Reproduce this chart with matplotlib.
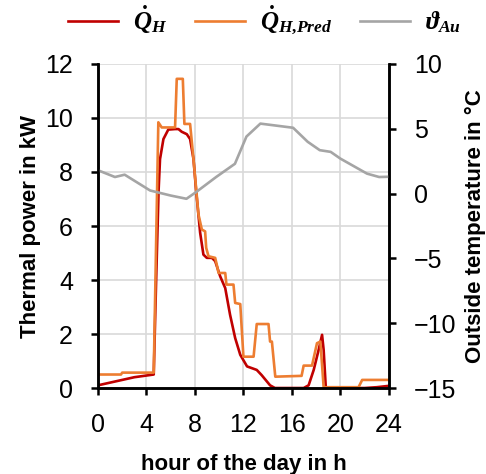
import matplotlib
matplotlib.use("Agg")
import matplotlib.pyplot as plt

plt.rcParams["font.family"] = ["Liberation Sans", "DejaVu Sans"]
plt.rcParams["mathtext.fontset"] = "custom"
plt.rcParams["mathtext.rm"] = "Liberation Serif:bold"
plt.rcParams["mathtext.it"] = "Liberation Serif:bold:italic"
plt.rcParams["mathtext.bf"] = "Liberation Serif:bold"

# measured heat demand (kW)
heat_hour = [0, 1, 2, 3, 4.6, 4.8, 5.0, 5.12, 5.4, 5.8, 6.36, 6.64, 6.91, 7.33,
             7.6, 7.88, 8.1, 8.43, 8.7, 8.98, 9.4, 9.67, 10.08, 10.5, 10.9,
             11.32, 11.74, 12.3, 13.1, 13.5, 14.2, 14.6, 16.5, 16.97, 17.38,
             17.8, 18.2, 18.49, 18.62, 18.8, 20, 22, 23, 24]
heat_kw = [0.1, 0.2, 0.3, 0.4, 0.5, 4.0, 7.3, 8.48, 9.22, 9.57, 9.59, 9.59, 9.49,
           9.4, 9.22, 8.48, 7.3, 5.75, 4.94, 4.82, 4.82, 4.7, 4.14, 3.7, 2.71,
           1.85, 1.23, 0.8, 0.67, 0.48, 0.1, 0.0, 0.0, 0.0, 0.1,
           0.67, 1.4, 1.97, 1.41, 0.0, 0.0, 0.0, 0.03, 0.08]

# predicted heat demand (kW)
pred_hour = [0, 1.9, 2.0, 4.6, 4.98, 5.26, 6.36, 6.5, 7.0, 7.13, 7.6, 7.88, 8.29,
             8.57, 8.84, 8.93, 9.12, 9.67, 9.8, 9.95, 10.5, 10.6, 11.18, 11.32,
             11.74, 12.0, 12.84, 13.1, 14.07, 14.2, 14.35, 14.63, 16.8, 16.97,
             17.66, 18.07, 18.35, 18.62, 21.5, 21.8, 24]
pred_kw = [0.5, 0.5, 0.57, 0.57, 9.84, 9.65, 9.65, 11.45, 11.45, 9.78, 9.78, 8.48,
           6.43, 5.87, 5.8, 5.19, 4.88, 4.82, 4.57, 4.26, 4.26, 3.83, 3.83, 3.15,
           3.11, 1.16, 1.16, 2.37, 2.37, 1.72, 1.72, 0.42, 0.45, 0.83,
           0.83, 1.66, 1.72, 0.03, 0.03, 0.3, 0.3]

# outside temperature (degC)
temp_hour = [0, 1.4, 2.2, 4.3, 6.0, 7.3, 8.1, 9.75, 11.3, 12.25, 13.4, 16.1,
             17.3, 18.3, 19.2, 20.0, 22.2, 23.2, 24]
temp_c = [1.8, 1.28, 1.46, 0.24, -0.15, -0.4, 0.12, 1.28, 2.3, 4.4, 5.4, 5.08,
          4.0, 3.35, 3.22, 2.7, 1.54, 1.28, 1.3]

red = "#c00000"
orange = "#ed7d31"
gray = "#a5a5a5"

fig = plt.figure(figsize=(4.86, 4.74), dpi=100)
ax = fig.add_axes([0.2016, 0.1814, 0.5985, 0.6836])
ax2 = ax.twinx()

l1, = ax.plot(heat_hour, heat_kw, color=red, lw=1.9, label=r"$\dot{Q}_H$")
l2, = ax.plot(pred_hour, pred_kw, color=orange, lw=1.9, label=r"$\dot{Q}_{H{,}Pred}$")
l3, = ax2.plot(temp_hour, temp_c, color=gray, lw=1.9, label=r"$\vartheta_{Au}$")

ax.set_xlim(0, 24)
ax.set_ylim(0, 12)
ax.set_xticks(range(0, 25, 4))
ax.set_yticks(range(0, 13, 2))
ax2.set_ylim(-15, 10)
ax2.set_yticks(range(-15, 11, 5))

ax.grid(True, color="#d9d9d9", lw=1.2)
ax.set_axisbelow(True)

for a in (ax, ax2):
    a.spines["top"].set_visible(False)
    for s in ("left", "right", "bottom"):
        a.spines[s].set_linewidth(1.8)
    a.tick_params(labelsize=18, width=1.8, length=5, pad=13, direction="out")

ax.set_xlabel("hour of the day in h", fontsize=16, fontweight="bold", labelpad=12)
ax.set_ylabel("Thermal power in kW", fontsize=16, fontweight="bold", labelpad=3)
ax2.set_ylabel("Outside temperature in °C", fontsize=16, fontweight="bold", labelpad=6)

fig.legend(handles=[l1, l2, l3], loc="upper center", bbox_to_anchor=(0.545, 1.04),
           ncol=3, frameon=False, fontsize=18, handlelength=2.0,
           columnspacing=1.1, handletextpad=0.6)

fig.savefig("out.png", dpi=100)
